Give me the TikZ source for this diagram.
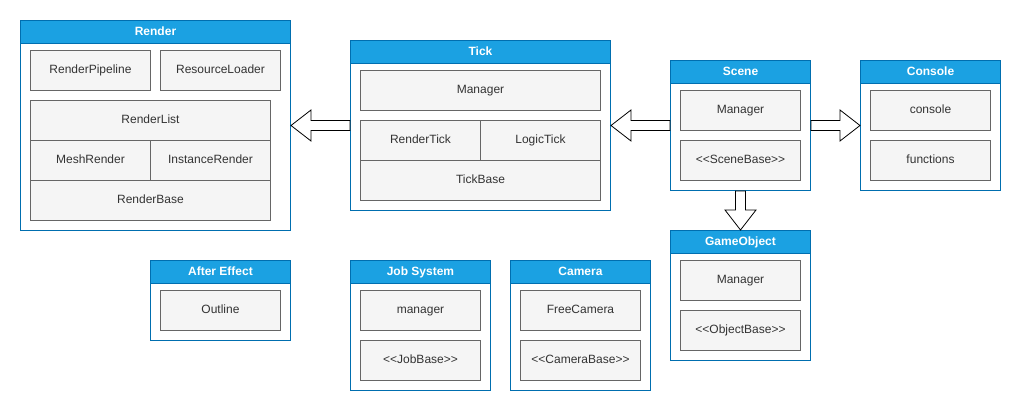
\documentclass[tikz,border=0pt]{standalone}
\usepackage{fontspec}
\setmainfont{Liberation Sans}
\usetikzlibrary{calc}
\definecolor{hdfill}{HTML}{1BA1E2}
\definecolor{hdline}{HTML}{006EAF}
\definecolor{itfill}{HTML}{F5F5F5}
\definecolor{itline}{HTML}{666666}
\definecolor{ittext}{HTML}{333333}
\tikzset{
  cont/.style={draw=hdline, fill=white, line width=1pt, inner sep=0pt, anchor=north west},
  head/.style={draw=hdline, fill=hdfill, line width=1pt, inner sep=0pt, anchor=north west,
    minimum height=23pt, text=white, font=\fontsize{12}{14}\selectfont\bfseries,
    text height=8.6pt, text depth=2.4pt},
  item/.style={draw=itline, fill=itfill, line width=1pt, inner sep=0pt, anchor=north west,
    text=ittext, font=\fontsize{12}{14}\selectfont, text height=8.6pt, text depth=2.4pt},
  blockarr/.style={draw=black, fill=white, line width=0.8pt, line join=miter}
}
\newcommand\mycont[6]{%
  \node[cont, minimum width={#4-#2}, minimum height={#5-#3}] (#1) at (#2,#3) {};
  \node[head, minimum width={#4-#2}] (#1-h) at (#2,#3) {#6};
}
\newcommand\myitem[6]{%
  \node[item, minimum width={#4-#2}, minimum height={#5-#3}] (#1) at (#2,#3) {#6};
}
\begin{document}
\begin{tikzpicture}[x=1pt,y=-1pt]
\useasboundingbox (0,0) rectangle (1021,411);

% Render
\mycont{render}{20}{20}{290}{230}{Render}
\myitem{rpipe}{30}{50}{150}{90}{RenderPipeline}
\myitem{rload}{160}{50}{280}{90}{ResourceLoader}
\myitem{rlist}{30}{100}{270}{140}{RenderList}
\myitem{rmesh}{30}{140}{150}{180}{MeshRender}
\myitem{rinst}{150}{140}{270}{180}{InstanceRender}
\myitem{rbase}{30}{180}{270}{220}{RenderBase}

% Tick
\mycont{tick}{350}{40}{610}{210}{Tick}
\myitem{tman}{360}{70}{600}{110}{Manager}
\myitem{trend}{360}{120}{480}{160}{RenderTick}
\myitem{tlogic}{480}{120}{600}{160}{LogicTick}
\myitem{tbase}{360}{160}{600}{200}{TickBase}

% Scene
\mycont{scene}{670}{60}{810}{190}{Scene}
\myitem{sman}{680}{90}{800}{130}{Manager}
\myitem{sbase}{680}{140}{800}{180}{<{}<SceneBase>{}>}

% Console
\mycont{console}{860}{60}{1000}{190}{Console}
\myitem{ccon}{870}{90}{990}{130}{console}
\myitem{cfun}{870}{140}{990}{180}{functions}

% GameObject
\mycont{gobj}{670}{230}{810}{360}{GameObject}
\myitem{gman}{680}{260}{800}{300}{Manager}
\myitem{gbase}{680}{310}{800}{350}{<{}<ObjectBase>{}>}

% After Effect
\mycont{after}{150}{260}{290}{340}{After Effect}
\myitem{aout}{160}{290}{280}{330}{Outline}

% Job System
\mycont{job}{350}{260}{490}{390}{Job System}
\myitem{jman}{360}{290}{480}{330}{manager}
\myitem{jbase}{360}{340}{480}{380}{<{}<JobBase>{}>}

% Camera
\mycont{cam}{510}{260}{650}{390}{Camera}
\myitem{cfree}{520}{290}{640}{330}{FreeCamera}
\myitem{cbase}{520}{340}{640}{380}{<{}<CameraBase>{}>}

% Block arrows
\draw[blockarr] let \p1=(tick.west), \p2=(render.east) in
  (\x1,\y1+5pt) -- (\x2+20pt,\y1+5pt) -- (\x2+20pt,\y1+15.5pt) -- (\x2,\y1)
  -- (\x2+20pt,\y1-15.5pt) -- (\x2+20pt,\y1-5pt) -- (\x1,\y1-5pt) -- cycle;
\draw[blockarr] let \p1=(scene.west), \p2=(tick.east) in
  (\x1,\y1+5pt) -- (\x2+20pt,\y1+5pt) -- (\x2+20pt,\y1+15.5pt) -- (\x2,\y1)
  -- (\x2+20pt,\y1-15.5pt) -- (\x2+20pt,\y1-5pt) -- (\x1,\y1-5pt) -- cycle;
\draw[blockarr] let \p1=(scene.east), \p2=(console.west) in
  (\x1,\y1+5pt) -- (\x2-20pt,\y1+5pt) -- (\x2-20pt,\y1+15.5pt) -- (\x2,\y1)
  -- (\x2-20pt,\y1-15.5pt) -- (\x2-20pt,\y1-5pt) -- (\x1,\y1-5pt) -- cycle;
\draw[blockarr] let \p1=(scene.south), \p2=(gobj.north) in
  (\x1-5pt,\y1) -- (\x1-5pt,\y2+20pt) -- (\x1-15.5pt,\y2+20pt) -- (\x1,\y2)
  -- (\x1+15.5pt,\y2+20pt) -- (\x1+5pt,\y2+20pt) -- (\x1+5pt,\y1) -- cycle;
\end{tikzpicture}
\end{document}
